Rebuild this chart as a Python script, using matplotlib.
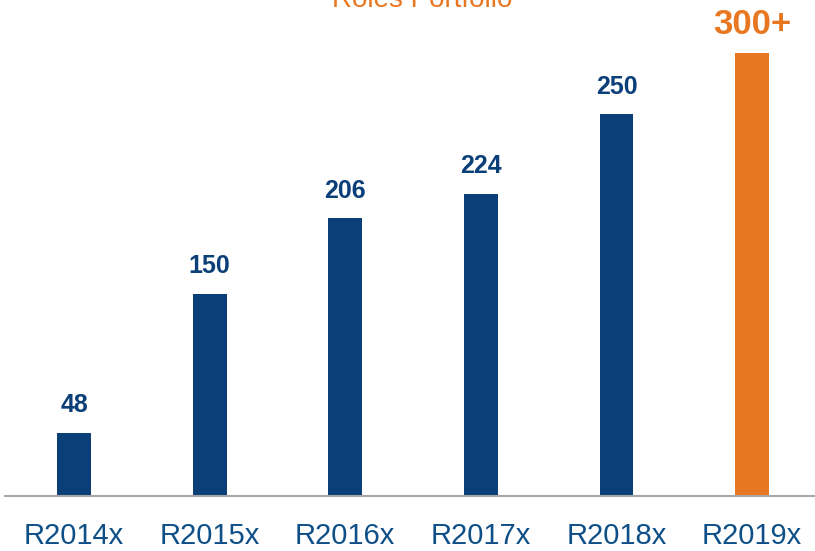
from matplotlib import pyplot as plt

releases = ['R2014x', 'R2015x', 'R2016x', 'R2017x', 'R2018x', 'R2019x']
heights = [47, 150, 206, 224, 283, 328]
labels = ['48', '150', '206', '224', '250', '300+']

navy = '#0b3f78'
orange = '#e87722'
colors = [navy] * 5 + [orange]

plt.rcParams['font.family'] = ['Liberation Sans', 'DejaVu Sans']

fig = plt.figure(figsize=(8.15, 5.51), dpi=100)
axs = fig.add_axes([5 / 815, 55 / 551, 810 / 815, 456 / 551])

x = list(range(len(releases)))
axs.bar(x, heights, width=0.25, color=colors)

for i, (h, lab) in enumerate(zip(heights, labels)):
    last = i == len(labels) - 1
    axs.annotate(lab, (i, h), xytext=(0, 9 if last else 11), textcoords='offset points',
                 ha='center', va='bottom', fontweight='bold',
                 fontsize=25 if last else 18,
                 color=orange if last else navy)

axs.set_xlim(-0.509, 5.464)
axs.set_ylim(0, 456 / 1.35)
axs.set_xticks(x)
axs.set_xticklabels(releases, fontsize=21, color='#0d4f86')
axs.tick_params(axis='x', length=0, pad=19)
axs.set_yticks([])
for side in ['top', 'right', 'left']:
    axs.spines[side].set_visible(False)
axs.spines['bottom'].set_color('#a6a6a6')
axs.spines['bottom'].set_linewidth(1.5)

fig.text(422 / 815, 1.0, 'Roles Portfolio', ha='center', va='center',
         fontsize=20, color=orange)

fig.savefig('out.png', dpi=100)
